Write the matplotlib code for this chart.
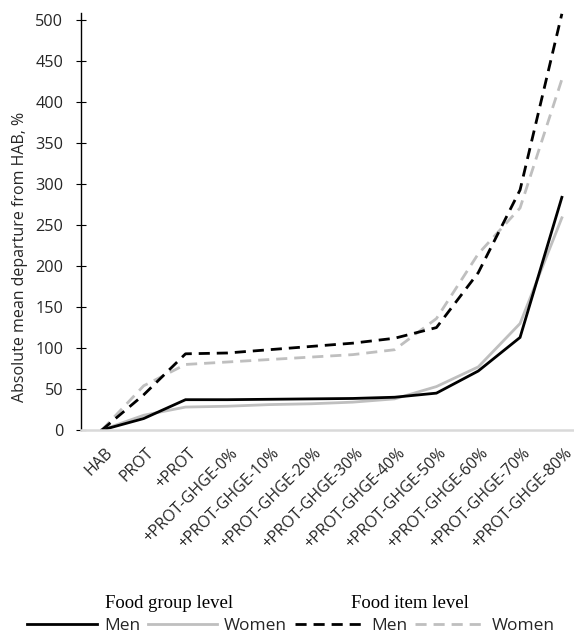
import numpy as np
import matplotlib
matplotlib.use('Agg')
import matplotlib.pyplot as plt
import matplotlib.transforms as mtransforms
from matplotlib.lines import Line2D

#%% data
categories = ['HAB', 'PROT', '+PROT', '+PROT-GHGE-0%', '+PROT-GHGE-10%',
              '+PROT-GHGE-20%', '+PROT-GHGE-30%', '+PROT-GHGE-40%',
              '+PROT-GHGE-50%', '+PROT-GHGE-60%', '+PROT-GHGE-70%',
              '+PROT-GHGE-80%']
men_group = [0, 14, 37, 37, 37.5, 38, 38.5, 40, 45, 72, 113, 284]
women_group = [0, 18, 28, 29, 31, 32, 34, 38, 53, 77, 130, 259]
men_item = [0, 43, 93, 94, 98, 102, 106, 112, 125, 192, 293, 508]
women_item = [0, 54, 80, 83, 86, 89, 92, 98, 136, 215, 271, 428]
yticks = [0, 50, 100, 150, 200, 250, 300, 350, 400, 450, 500]

#%% style
plt.rcParams['font.family'] = ['Open Sans', 'DejaVu Sans']
black = '#000000'
grey = '#bfbfbf'
txt = '#262626'
lw = 2.0
dash = (0, (4, 2.5))

fig = plt.figure(figsize=(5.74, 6.35), dpi=100)
ax = fig.add_axes([81/574, 1-430/635, 1-81/574, (430-13)/635])

x = np.arange(len(categories))
ax.plot(x, women_group, color=grey, lw=lw, solid_joinstyle='miter')
ax.plot(x, men_group, color=black, lw=lw, solid_joinstyle='miter')
ax.plot(x, women_item, color=grey, lw=lw, linestyle=dash)
ax.plot(x, men_item, color=black, lw=lw, linestyle=dash)

ax.set_xlim(-0.5, 11.29)
ax.set_ylim(0, 509)
ax.set_yticks(yticks)
ax.set_xticks(x)
ax.set_xticklabels(categories, rotation=45, ha='right', va='center',
                   rotation_mode='anchor', fontsize=11.5, color=txt)
ax.tick_params(axis='x', length=0, pad=15)
ax.tick_params(axis='y', direction='inout', length=7.5, width=0.8,
               labelsize=11.7, labelcolor=txt, pad=9)

# nudge rotated labels so their ends sit at the category
shift = mtransforms.ScaledTranslation(0.08, 0, fig.dpi_scale_trans)
for lab in ax.get_xticklabels():
    lab.set_transform(lab.get_transform() + shift)

for s in ['top', 'right']:
    ax.spines[s].set_visible(False)
ax.spines['left'].set_linewidth(1.0)
ax.spines['bottom'].set_color('#d9d9d9')
ax.spines['bottom'].set_linewidth(1.8)

fig.text(20/574, 1-257/635, 'Absolute mean departure from HAB, %',
         rotation=90, ha='center', va='center', fontsize=11.5, color=txt)

#%% legend
handles = [Line2D([], [], color=black, lw=lw),
           Line2D([], [], color=grey, lw=lw),
           Line2D([], [], color=black, lw=lw, linestyle=dash),
           Line2D([], [], color=grey, lw=lw, linestyle=dash)]
labels = ['Men', 'Women', 'Men', 'Women']
fig.legend(handles, labels, ncol=4, loc='center', bbox_to_anchor=(291/574, 1-626/635),
           frameon=False, fontsize=12.5, handlelength=4.0, handletextpad=0.4,
           columnspacing=0.45, borderpad=0, borderaxespad=0, labelcolor=txt)

fig.text(169/574, 1-603/635, 'Food group level', ha='center', va='center',
         family='Liberation Serif', fontsize=13.5)
fig.text(410/574, 1-603/635, 'Food item level', ha='center', va='center',
         family='Liberation Serif', fontsize=13.5)

fig.savefig('out.png', dpi=100)
